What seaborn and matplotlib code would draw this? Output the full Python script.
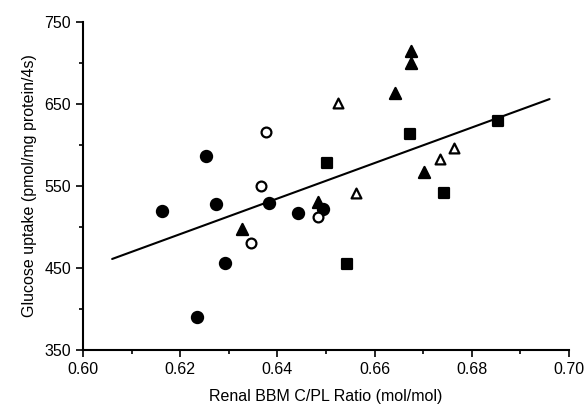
from matplotlib import pyplot as plt
from matplotlib.ticker import MultipleLocator, FixedLocator
import seaborn as sns
import pandas as pd

sns.set_style("white")
plt.rcParams['font.family'] = ['Liberation Sans', 'DejaVu Sans']

# values
filled_circle_x = [0.6253, 0.6163, 0.6274, 0.6383, 0.6442, 0.6494, 0.6292, 0.6235]
filled_circle_y = [586, 519, 528, 529, 517, 522, 456, 390]
open_circle_x = [0.6377, 0.6366, 0.6484, 0.6346]
open_circle_y = [616, 550, 512, 480]
filled_tri_x = [0.6675, 0.6675, 0.6642, 0.6702, 0.6484, 0.6327]
filled_tri_y = [715, 700, 663, 567, 530, 497]
open_tri_x = [0.6525, 0.6763, 0.6735, 0.6562]
open_tri_y = [651, 596, 583, 541]
square_x = [0.6502, 0.6673, 0.6854, 0.6743, 0.6543]
square_y = [578, 613, 629, 541, 455]

# fitted line as drawn in the figure
fit_x = [0.606, 0.696]
fit_y = [461, 656]

y_ticks = [350, 450, 550, 650, 750]

fig = plt.figure(figsize=(5.86, 4.12), dpi=100)
ax = fig.add_axes([0.1416, 0.1505, 0.8294, 0.7961])

sns.lineplot(x=fit_x, y=fit_y, color='black', linewidth=1.5, ax=ax)

groups = [
    (filled_circle_x, filled_circle_y, 'o', 'black', 64),
    (open_circle_x, open_circle_y, 'o', 'white', 50),
    (filled_tri_x, filled_tri_y, '^', 'black', 64),
    (open_tri_x, open_tri_y, '^', 'white', 50),
    (square_x, square_y, 's', 'black', 56),
]
for xs, ys, m, fc, s in groups:
    df = pd.DataFrame({'x': xs, 'y': ys})
    sns.scatterplot(data=df, x='x', y='y', marker=m, s=s, ax=ax,
                    facecolor=fc, edgecolor='black', linewidth=1.6, zorder=3)

ax.set_xlim(0.60, 0.70)
ax.set_ylim(350, 750)
ax.xaxis.set_major_locator(MultipleLocator(0.02))
ax.xaxis.set_minor_locator(MultipleLocator(0.01))
ax.yaxis.set_major_locator(FixedLocator(y_ticks))
ax.yaxis.set_minor_locator(MultipleLocator(50))
ax.xaxis.set_major_formatter(plt.FormatStrFormatter('%.2f'))
ax.tick_params(which='both', direction='out', color='black', width=1.2,
               labelsize=11.5, labelcolor='black')
ax.tick_params(which='major', length=5, bottom=True, left=True)
ax.tick_params(which='minor', length=3, bottom=True, left=True)

for side in ['top', 'right']:
    ax.spines[side].set_visible(False)
for side in ['left', 'bottom']:
    ax.spines[side].set_color('black')
    ax.spines[side].set_linewidth(1.5)

ax.set_xlabel('Renal BBM C/PL Ratio (mol/mol)', fontsize=11.5, color='black', labelpad=9)
ax.set_ylabel('Glucose uptake (pmol/mg protein/4s)', fontsize=11.5, color='black', labelpad=5)

fig.savefig('out.png', dpi=100)
